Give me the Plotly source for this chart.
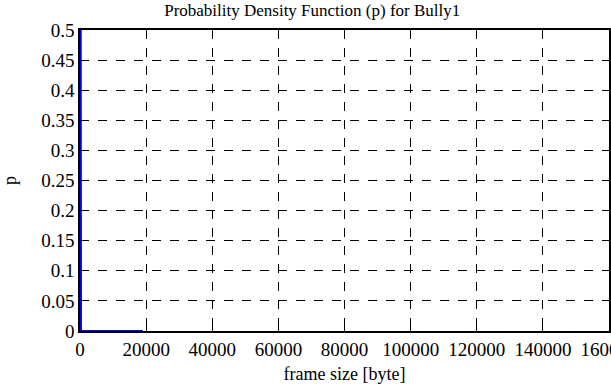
import plotly.graph_objects as go

frame_size = [0, 150, 300, 19000]
density = [0.0, 0.9, 0.0, 0.0]

x_ticks = [0, 20000, 40000, 60000, 80000, 100000, 120000, 140000, 160000]
y_ticks = [0, 0.05, 0.1, 0.15, 0.2, 0.25, 0.3, 0.35, 0.4, 0.45, 0.5]

fig = go.Figure()
fig.add_trace(go.Scatter(x=frame_size, y=density, mode="lines",
                         line=dict(color="#0000ff", width=2), showlegend=False))

fam = "Liberation Serif"
fig.update_layout(
    width=611, height=385,
    margin=dict(l=80, r=2, t=30, b=54),
    paper_bgcolor="white", plot_bgcolor="white",
    font=dict(family=fam, size=19, color="black"),
    title=dict(text="Probability Density Function (p) for Bully1", x=0.511, xanchor="center",
               y=0.975, yanchor="middle", font=dict(family=fam, size=17, color="black")),
)
fig.update_xaxes(range=[0, 160000], tickvals=x_ticks, ticktext=[str(v) for v in x_ticks],
                 showgrid=True, gridcolor="black", griddash="dash", gridwidth=1,
                 showline=True, linecolor="black", linewidth=1.5, mirror=True,
                 ticks="inside", ticklen=5, tickcolor="black", zeroline=False,
                 automargin=False, ticklabeloverflow="allow", tickfont=dict(family=fam, size=19),
                 title=dict(text="frame size [byte]", standoff=9, font=dict(family=fam, size=18)))
fig.update_yaxes(range=[0, 0.5], tickvals=y_ticks, ticktext=[f"{v:g}" for v in y_ticks],
                 showgrid=True, gridcolor="black", griddash="dash", gridwidth=1,
                 showline=True, linecolor="black", linewidth=1.5, mirror=True,
                 ticks="inside", ticklen=5, tickcolor="black", zeroline=False,
                 automargin=False, ticklabeloverflow="allow", tickfont=dict(family=fam, size=19),
                 title=dict(text="p", standoff=22, font=dict(family=fam, size=18)))

fig.write_html("out.html", config={"displayModeBar": False},
               post_script="document.body.style.margin='0';")
